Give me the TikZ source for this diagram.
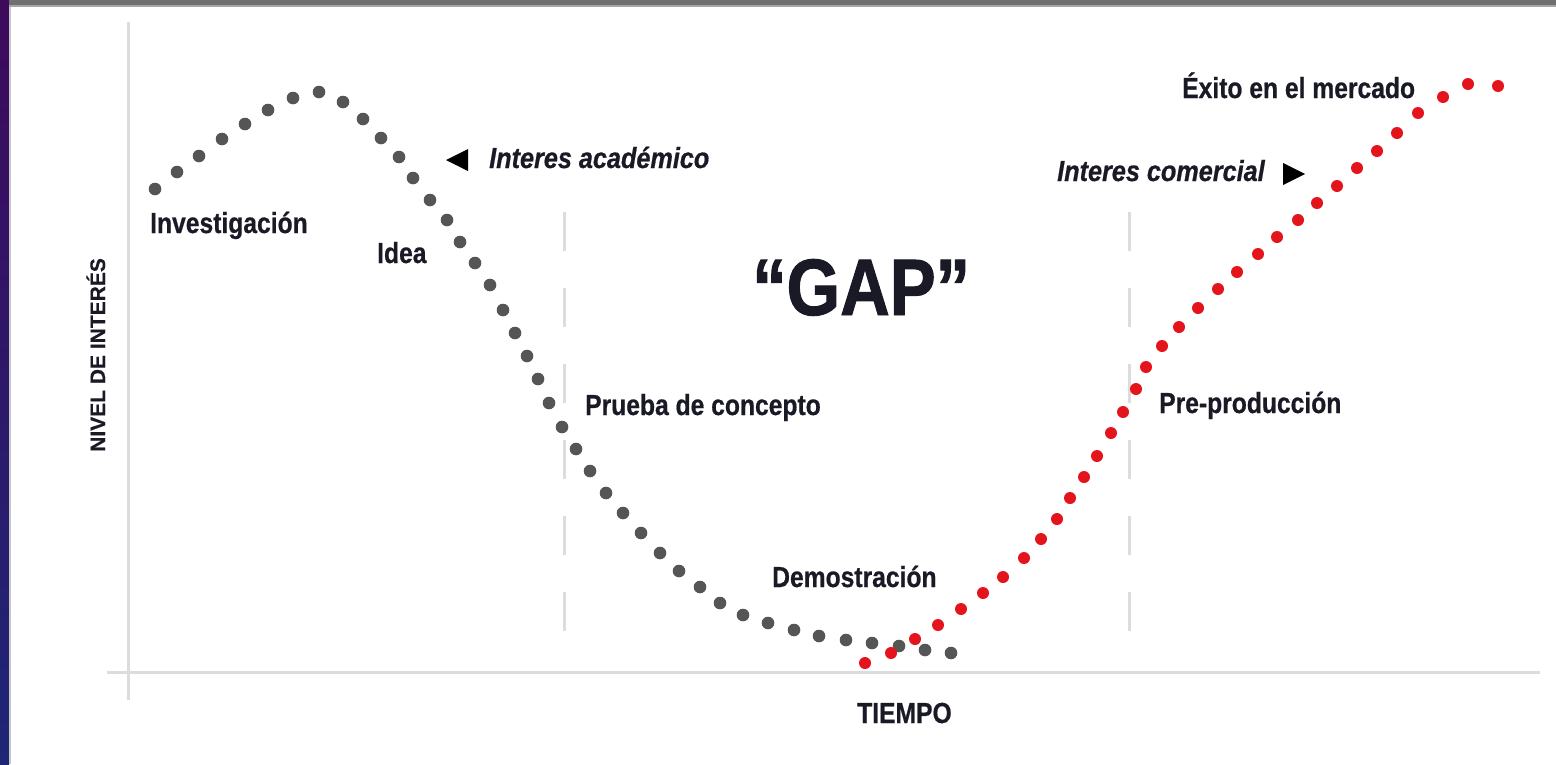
\documentclass[tikz,border=0pt]{standalone}
\usepackage{fontspec}
\newfontfamily\cnd{Liberation Sans}[FakeStretch=0.85, FakeBold=0.6]
\newfontfamily\cndi{Liberation Sans}[FakeStretch=0.87, FakeBold=0.6]
\newfontfamily\cndgap{Liberation Sans}[FakeStretch=0.86, FakeBold=1.2]
\newfontfamily\cndax{Liberation Sans}[FakeBold=0.4]
\definecolor{barpurpletop}{HTML}{3E0A5C}
\definecolor{barpurplebot}{HTML}{1E2676}
\definecolor{topgray}{HTML}{707070}
\definecolor{axisgray}{HTML}{DCDCDC}
\definecolor{dotgray}{HTML}{555555}
\definecolor{dotred}{HTML}{E3141B}
\definecolor{txt}{HTML}{1A1A26}
\tikzset{
  lbl/.style={inner sep=0pt, anchor=base west, text=txt, font=\cnd\bfseries\fontsize{29}{31}\selectfont},
  ilbl/.style={lbl, font=\cndi\bfseries\itshape\fontsize{29}{31}\selectfont},
  gdot/.style={fill=dotgray},
  rdot/.style={fill=dotred},
  axisline/.style={draw=axisgray, line width=3pt},
  gapline/.style={draw=axisgray, line width=3pt, dash pattern=on 39pt off 37pt},
  tri/.style={fill=black}
}
\begin{document}
\begin{tikzpicture}[x=1pt,y=-1pt]
\useasboundingbox (0,0) rectangle (1556,764);
\fill[white] (0,0) rectangle (1556,764);
% frame
\shade[top color=barpurpletop, bottom color=barpurplebot] (0,0) rectangle (9,764);
\fill[black!22] (9,0) rectangle (11,764);
\fill[topgray] (9,0) rectangle (1556,5);
\fill[black!35] (9,5) rectangle (1556,7);
% axes
\coordinate (ytop) at (128,22);
\coordinate (ybot) at (128,700);
\coordinate (xl) at (107,672);
\coordinate (xr) at (1540,672);
\draw[axisline] (ytop) -- (ybot);
\draw[axisline] (xl) -- (xr);
% dashed gap lines
\coordinate (d1t) at (564,212);
\coordinate (d1b) at (564,634);
\coordinate (d2t) at (1129,212);
\coordinate (d2b) at (1129,634);
\draw[gapline] (d1t) -- (d1b);
\draw[gapline] (d2t) -- (d2b);
% gray dots
\foreach \x/\y in {155/189,177/172,199/156,222/139,245/124,268/110,293/98,319/92,343/102,363/119,381/138,399/157,413/178,430/200,447/220,460/242,475/263,490/285,503/310,515/333,527/356,538/379,549/403,562/427,576/449,590/471,606/493,623/513,641/533,660/553,679/571,700/587,720/603,743/615,768/623,794/630,819/636,846/640,872/643,899/646,925/650,951/653}
  \fill[gdot] (\x,\y) circle (6.3pt);
% red dots
\foreach \x/\y in {865/663,891/653,915/639,938/625,961/609,983/593,1003/577,1024/558,1041/539,1057/519,1070/498,1084/477,1097/456,1111/433,1123/412,1136/389,1146/367,1162/346,1179/327,1198/308,1218/289,1237/272,1258/254,1277/237,1298/220,1317/203,1337/186,1357/168,1377/151,1397/133,1418/113,1443/97,1468/84,1498/86}
  \fill[rdot] (\x,\y) circle (6pt);
% labels
\node[lbl] (inv) at (150,233) {Investigación};
\node[lbl] (idea) at (377,263) {Idea};
\node[ilbl] (acad) at (489,168) {Interes académico};
\fill[tri] (446,160) -- (468,149) -- (468,171) -- cycle;
\node[ilbl] (com) at (1057,181) {Interes comercial};
\fill[tri] (1305,174) -- (1283,163) -- (1283,185) -- cycle;
\node[lbl] (exito) at (1182,98) {Éxito en el mercado};
\node[lbl, font=\cndgap\bfseries\fontsize{80}{86}\selectfont] (gap) at (752,315) {“GAP”};
\node[lbl] (prueba) at (585,415) {Prueba de concepto};
\node[lbl] (pre) at (1159,413) {Pre-producción};
\node[lbl] (demo) at (772,587) {Demostración};
\node[lbl] (tiempo) at (857,723) {TIEMPO};
\node[lbl, font=\cndax\bfseries\fontsize{21}{23}\selectfont, rotate=90] (nivel) at (105,452) {NIVEL DE INTERÉS};
\end{tikzpicture}
\end{document}
